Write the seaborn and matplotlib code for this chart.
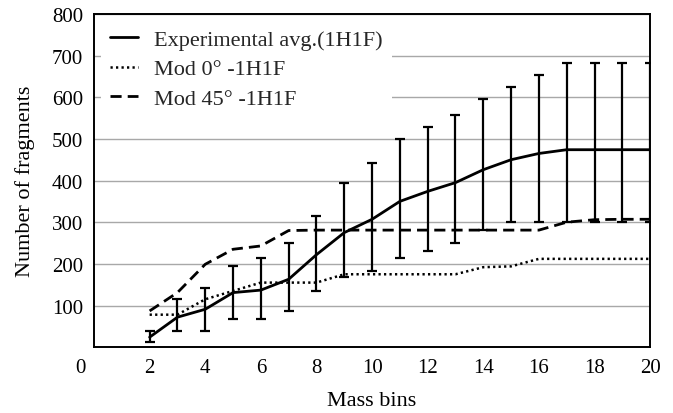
import numpy as np
import pandas as pd
import matplotlib
matplotlib.use("Agg")
import matplotlib.pyplot as plt
import matplotlib.transforms as mtransforms
import seaborn as sns

# ---- data ----
mass_bins = [2, 3, 4, 5, 6, 7, 8, 9, 10, 11, 12, 13, 14, 15, 16, 17, 18, 19, 20]
exp_avg   = [24, 72, 91, 131, 137, 163, 222, 275, 307, 350, 374, 395, 426, 450, 465, 474, 474, 474, 474]
exp_low   = [12, 38, 38, 67, 67, 86, 134, 168, 182, 213, 230, 251, 281, 300, 300, 300, 300, 300, 300]
exp_high  = [38, 115, 143, 194, 213, 251, 316, 395, 443, 500, 529, 558, 596, 625, 654, 683, 683, 683, 683]
mod0      = [78, 78, 115, 135, 155, 155, 155, 175, 175, 175, 175, 175, 192, 194, 212, 212, 212, 212, 212]
mod45     = [87, 131, 199, 235, 243, 280, 281, 281, 281, 281, 281, 281, 281, 281, 281, 300, 306, 307, 307]
labels = ["Experimental avg.(1H1F)", "Mod 0\u00b0 -1H1F", "Mod 45\u00b0 -1H1F"]
x_ticks = [0, 2, 4, 6, 8, 10, 12, 14, 16, 18, 20]
y_ticks = [100, 200, 300, 400, 500, 600, 700, 800]

sns.set_theme(style="white")
plt.rcParams['font.family'] = ['Liberation Serif', 'DejaVu Serif']

df = pd.DataFrame({"bin": mass_bins, "exp": exp_avg, "m0": mod0, "m45": mod45})

fig = plt.figure(figsize=(6.73, 4.14), dpi=100)
ax = fig.add_axes([0.1397, 0.159, 0.8263, 0.805])

sns.lineplot(data=df, x="bin", y="exp", ax=ax, color="black", linewidth=2.0,
             label=labels[0])
sns.lineplot(data=df, x="bin", y="m0", ax=ax, color="black", linewidth=1.8,
             linestyle=(0, (0.9, 1.3)), label=labels[1])
sns.lineplot(data=df, x="bin", y="m45", ax=ax, color="black", linewidth=2.0,
             linestyle=(0, (4, 2.2)), label=labels[2])

err_lo = np.array(exp_avg) - np.array(exp_low)
err_hi = np.array(exp_high) - np.array(exp_avg)
ax.errorbar(mass_bins, exp_avg, yerr=[err_lo, err_hi], fmt="none", ecolor="black",
            elinewidth=1.6, capsize=3.5, capthick=1.6, zorder=3)

ax.set_xlim(0, 20)
ax.set_ylim(0, 800)
ax.set_xticks(x_ticks)
ax.set_yticks(y_ticks)
ax.set_yticklabels([str(v) for v in y_ticks])
ax.yaxis.grid(True, color="#a8a8a8", linewidth=1.0)
ax.set_axisbelow(True)
for s in ax.spines.values():
    s.set_color("black")
    s.set_linewidth(1.4)

ax.tick_params(axis="both", direction="in", length=5, width=1.2, color="black",
               labelsize=15, labelcolor="black", pad=8)
ax.tick_params(axis="x", pad=8)

# shift the "0" label to the left like the reference
offset = mtransforms.ScaledTranslation(-0.14, 0, fig.dpi_scale_trans)
lbl0 = ax.get_xticklabels()[0]
lbl0.set_transform(lbl0.get_transform() + offset)

ax.set_xlabel("Mass bins", fontsize=16, color="black", labelpad=10)
ax.set_ylabel("Number of fragments", fontsize=16, color="black", labelpad=12)

leg = ax.legend(loc="upper left", fontsize=16, frameon=True, facecolor="white",
                edgecolor="none", framealpha=1.0, handlelength=1.3,
                handletextpad=0.7, borderaxespad=0.3, labelspacing=0.4)
leg.get_frame().set_linewidth(0)

fig.savefig("out.png", dpi=100)
